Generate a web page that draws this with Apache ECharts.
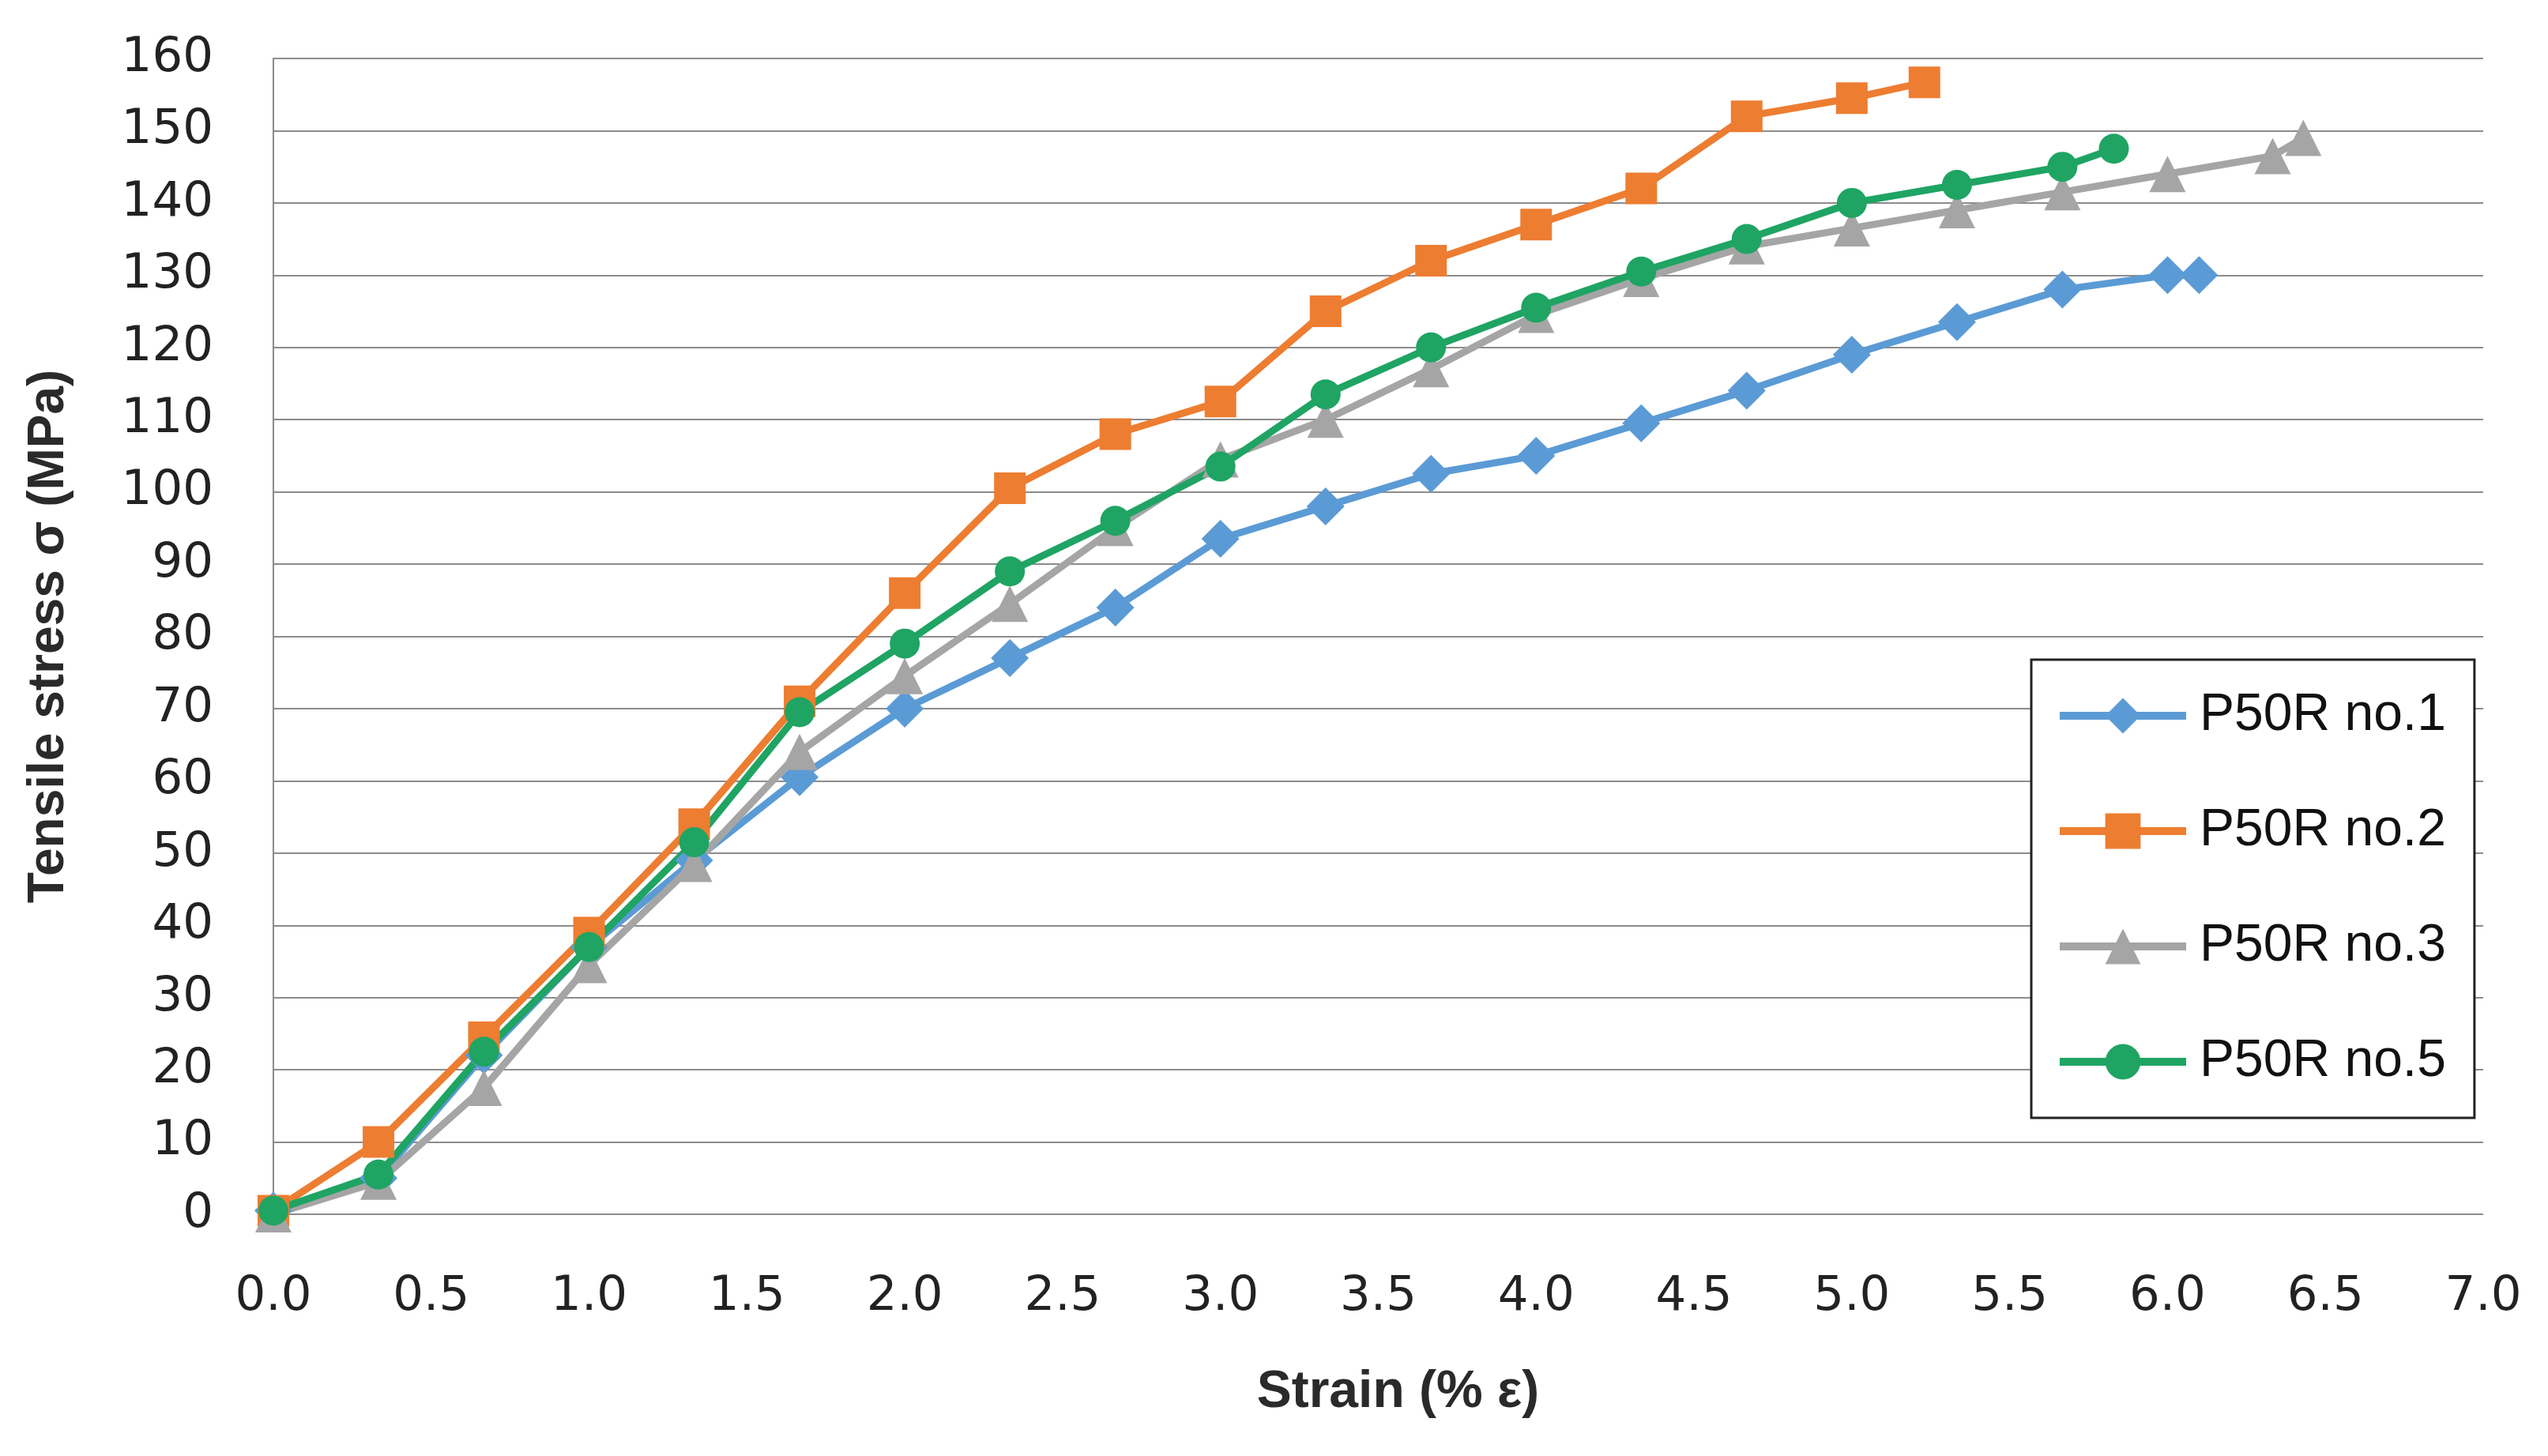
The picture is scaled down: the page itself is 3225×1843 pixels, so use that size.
<!DOCTYPE html>
<html>
<head>
<meta charset="utf-8">
<script src="https://cdn.jsdelivr.net/npm/echarts@6/dist/echarts.min.js"></script>
<style>
html,body{margin:0;padding:0;background:#fff;}
#chart{width:3225px;height:1843px;}
</style>
</head>
<body>
<div id="chart"></div>
<script>
// Strain (% ε) values for each specimen
const x1 = [0, 0.333, 0.667, 1.0, 1.333, 1.667, 2.0, 2.333, 2.667, 3.0, 3.333, 3.667, 4.0, 4.333, 4.667, 5.0, 5.333, 5.667, 6.0, 6.1];
const y1 = [0.5, 5, 22, 37, 49, 60.5, 70, 77, 84, 93.5, 98, 102.5, 105, 109.5, 114, 119, 123.5, 128, 130, 130];

const x2 = [0, 0.333, 0.667, 1.0, 1.333, 1.667, 2.0, 2.333, 2.667, 3.0, 3.333, 3.667, 4.0, 4.333, 4.667, 5.0, 5.23];
const y2 = [0.5, 10, 24.5, 39, 54, 71, 86, 100.5, 108, 112.5, 125, 132, 137, 142, 152, 154.5, 156.7];

const x3 = [0, 0.333, 0.667, 1.0, 1.333, 1.667, 2.0, 2.333, 2.667, 3.0, 3.333, 3.667, 4.0, 4.333, 4.667, 5.0, 5.333, 5.667, 6.0, 6.333, 6.43];
const y3 = [0, 4.5, 17.5, 34.5, 48.5, 64, 74.5, 84.5, 95, 104.5, 110, 117, 124.5, 129.5, 134, 136.5, 139, 141.5, 144, 146.5, 149];

const x5 = [0, 0.333, 0.667, 1.0, 1.333, 1.667, 2.0, 2.333, 2.667, 3.0, 3.333, 3.667, 4.0, 4.333, 4.667, 5.0, 5.333, 5.667, 5.83];
const y5 = [0.5, 5.5, 22.5, 37, 51.5, 69.5, 79, 89, 96, 103.5, 113.5, 120, 125.5, 130.5, 135, 140, 142.5, 145, 147.5];

const seriesNames = ['P50R no.1', 'P50R no.2', 'P50R no.3', 'P50R no.5'];
const xTitle = 'Strain (% ε)';
const yTitle = 'Tensile stress σ (MPa)';

function pairs(xs, ys) { return xs.map((v, i) => [v, ys[i]]); }

const colors = ['#5B9BD5', '#ED7D31', '#A5A5A5', '#1FA463'];
const symbols = ['diamond', 'rect', 'triangle', 'circle'];
const sizes = [48, 40, 46, 38];
const datasets = [pairs(x1, y1), pairs(x2, y2), pairs(x3, y3), pairs(x5, y5)];

const chart = echarts.init(document.getElementById('chart'), null, {renderer: 'canvas'});
chart.setOption({
  backgroundColor: '#ffffff',
  animation: false,
  grid: {left: 346, right: 82, top: 74, bottom: 306},
  legend: {
    orient: 'vertical',
    left: 2571,
    top: 835,
    backgroundColor: '#ffffff',
    borderColor: '#222222',
    borderWidth: 3,
    padding: [38, 36, 38, 31],
    itemGap: 80,
    itemWidth: 160,
    itemHeight: 56,
    lineStyle: {width: 10},
    textStyle: {fontFamily: 'Liberation Sans', fontSize: 66, color: '#111111', padding: [0, 0, 0, 12]},
    data: seriesNames
  },
  xAxis: {
    type: 'value',
    min: 0, max: 7, interval: 0.5,
    name: xTitle,
    nameLocation: 'middle',
    nameGap: 193,
    nameTextStyle: {fontFamily: 'Liberation Sans', fontWeight: 'bold', fontSize: 66, color: '#2a2a2a', padding: [0, 0, 0, 50]},
    axisLine: {show: false},
    axisTick: {show: false},
    splitLine: {show: false},
    axisLabel: {
      fontFamily: 'DejaVu Sans', fontSize: 61, color: '#222222', margin: 75,
      formatter: v => v.toFixed(1)
    }
  },
  yAxis: {
    type: 'value',
    min: 0, max: 160, interval: 10,
    name: yTitle,
    nameLocation: 'middle',
    nameRotate: 90,
    nameGap: 252,
    nameTextStyle: {fontFamily: 'Liberation Sans', fontWeight: 'bold', fontSize: 64, color: '#2a2a2a'},
    axisLine: {show: true, lineStyle: {color: '#8a8a8a', width: 2}},
    axisTick: {show: false},
    splitLine: {show: true, lineStyle: {color: '#8c8c8c', width: 2}},
    axisLabel: {fontFamily: 'DejaVu Sans', fontSize: 61, color: '#222222', margin: 76}
  },
  series: seriesNames.map((n, i) => ({
    name: n,
    type: 'line',
    data: datasets[i],
    symbol: symbols[i],
    symbolSize: sizes[i],
    showAllSymbol: true,
    lineStyle: {color: colors[i], width: 9},
    itemStyle: {color: colors[i]},
    emphasis: {disabled: true}
  }))
});
</script>
</body>
</html>
